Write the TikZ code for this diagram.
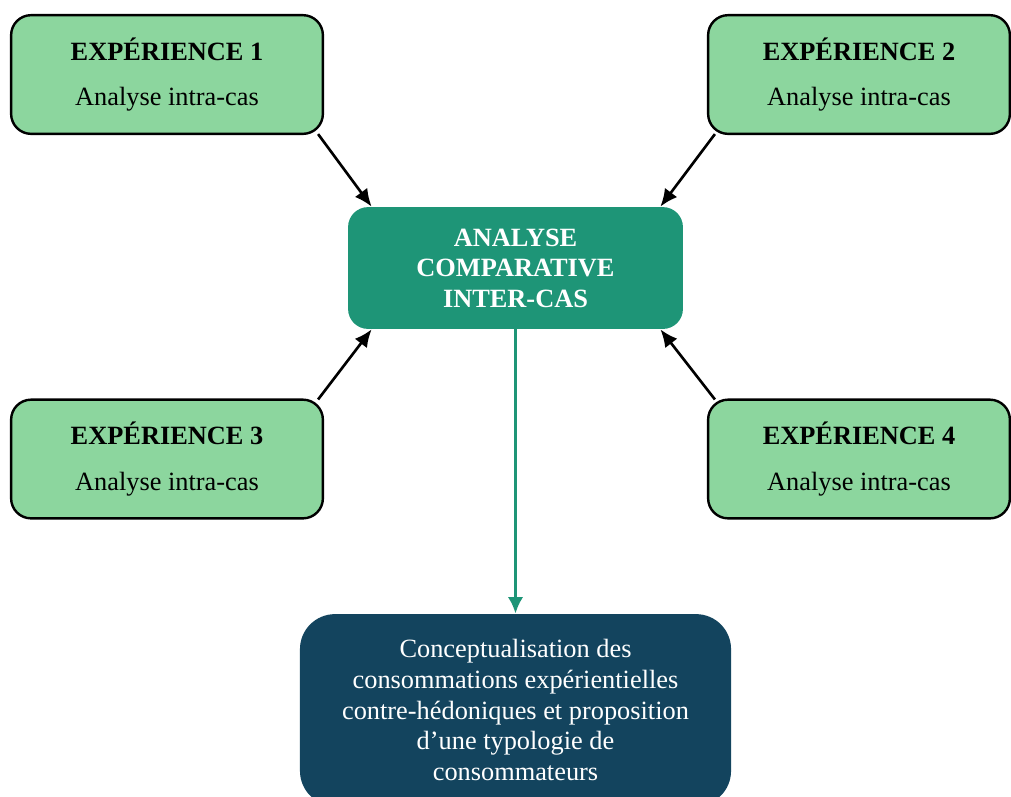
\documentclass[tikz,border=0pt]{standalone}
\usepackage{fontspec}
\setmainfont{Liberation Serif}
\usepackage{tikz}
\usetikzlibrary{arrows.meta}
\definecolor{lightgreen}{HTML}{8CD69E}
\definecolor{deepgreen}{HTML}{1E9577}
\definecolor{navy}{HTML}{13445E}

\begin{document}
\begin{tikzpicture}[x=0.016cm, y=-0.016cm,
        expbox/.style={draw=black, line width=1.1pt, fill=lightgreen, rounded corners=0.32cm,
                minimum height=1.9cm, align=center, font=\fontsize{12}{13.9}\selectfont},
        link/.style={line width=1.2pt, -{Latex[length=8pt, width=7pt]}}]
        \clip (0,0) rectangle (1011,796);
        % cases
        \node[expbox, minimum width=4.99cm] (e1) at (167,74.5) {\textbf{EXPÉRIENCE 1}\\[7pt]Analyse intra-cas};
        \node[expbox, minimum width=4.83cm] (e2) at (859,74.5) {\textbf{EXPÉRIENCE 2}\\[7pt]Analyse intra-cas};
        \node[expbox, minimum width=4.99cm] (e3) at (167,459) {\textbf{EXPÉRIENCE 3}\\[7pt]Analyse intra-cas};
        \node[expbox, minimum width=4.83cm] (e4) at (859,459) {\textbf{EXPÉRIENCE 4}\\[7pt]Analyse intra-cas};
        % comparison
        \node[fill=deepgreen, text=white, rounded corners=0.32cm, minimum width=5.36cm, minimum height=1.95cm,
                align=center, font=\fontsize{12}{13.9}\selectfont\bfseries] (inter) at (515.5,268)
                {ANALYSE\\COMPARATIVE\\INTER-CAS};
        % result
        \node[fill=navy, text=white, rounded corners=0.56cm, minimum width=6.9cm, minimum height=3.07cm,
                align=center, font=\fontsize{12}{13.9}\selectfont] (concept) at (515.5,710)
                {Conceptualisation des\\consommations expérientielles\\contre-hédoniques et proposition\\d’une typologie de\\consommateurs};
        \draw[link] ([shift={(-6,-1)}]e1.south east) -- ([shift={(24,0)}]inter.north west);
        \draw[link] ([shift={(8,-1)}]e2.south west) -- ([shift={(-23,0)}]inter.north east);
        \draw[link] ([shift={(-6,1)}]e3.north east) -- ([shift={(24,0)}]inter.south west);
        \draw[link] ([shift={(8,1)}]e4.north west) -- ([shift={(-23,0)}]inter.south east);
        \draw[deepgreen, line width=1.6pt, -{Latex[length=7.5pt, width=7pt]}] (inter.south) -- (concept.north);
\end{tikzpicture}
\end{document}
